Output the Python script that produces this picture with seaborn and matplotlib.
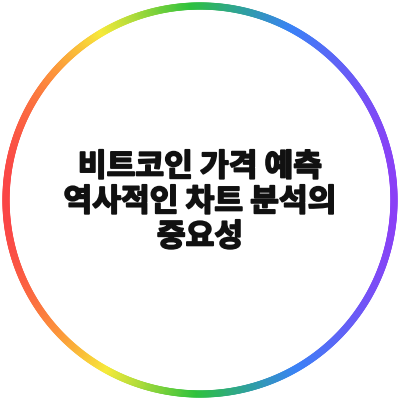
import numpy as np
import seaborn as sns
import matplotlib.pyplot as plt
import matplotlib.patheffects as pe
from matplotlib.colors import LinearSegmentedColormap
from matplotlib.collections import LineCollection

# title lines and ring gradient (left -> right)
title_lines = ['비트코인 가격 예측', '역사적인 차트 분석의', '중요성']
ring_colors = ['#fa4646', '#fc963a', '#f7ea3a', '#2ec23c', '#2fa0a0', '#3a82f6', '#8a40f6']
ring_stops = [0.0, 0.13, 0.25, 0.48, 0.62, 0.74, 1.0]

sns.set_theme(style='white')
plt.rcParams['font.family'] = ['Noto Sans CJK KR', 'DejaVu Sans']

fig = plt.figure(figsize=(4, 4), dpi=100)
ax = fig.add_axes([0, 0, 1, 1])
ax.set_xlim(0, 400)
ax.set_ylim(400, 0)
ax.set_aspect('equal')
ax.axis('off')

# rainbow ring, colour follows the x position
cmap = LinearSegmentedColormap.from_list('ring', list(zip(ring_stops, ring_colors)))
t = np.linspace(0, 2 * np.pi, 721)
cx, cy, r = 200, 200, 194
x = cx + r * np.cos(t)
y = cy + r * np.sin(t)
pts = np.column_stack([x, y]).reshape(-1, 1, 2)
segs = np.concatenate([pts[:-1], pts[1:]], axis=1)
lc = LineCollection(segs, cmap=cmap, linewidths=5.2, capstyle='round')
lc.set_array((x[:-1] + x[1:]) / 2)
lc.set_clim(6, 394)
ax.add_collection(lc)

for i, line in enumerate(title_lines):
    ax.text(200, 167 + 35 * i, line, ha='center', va='center',
            fontsize=22.5, fontweight='black', color='#111111',
            path_effects=[pe.withStroke(linewidth=1.3, foreground='#111111')])

fig.savefig('out.png', dpi=100, facecolor='white')
